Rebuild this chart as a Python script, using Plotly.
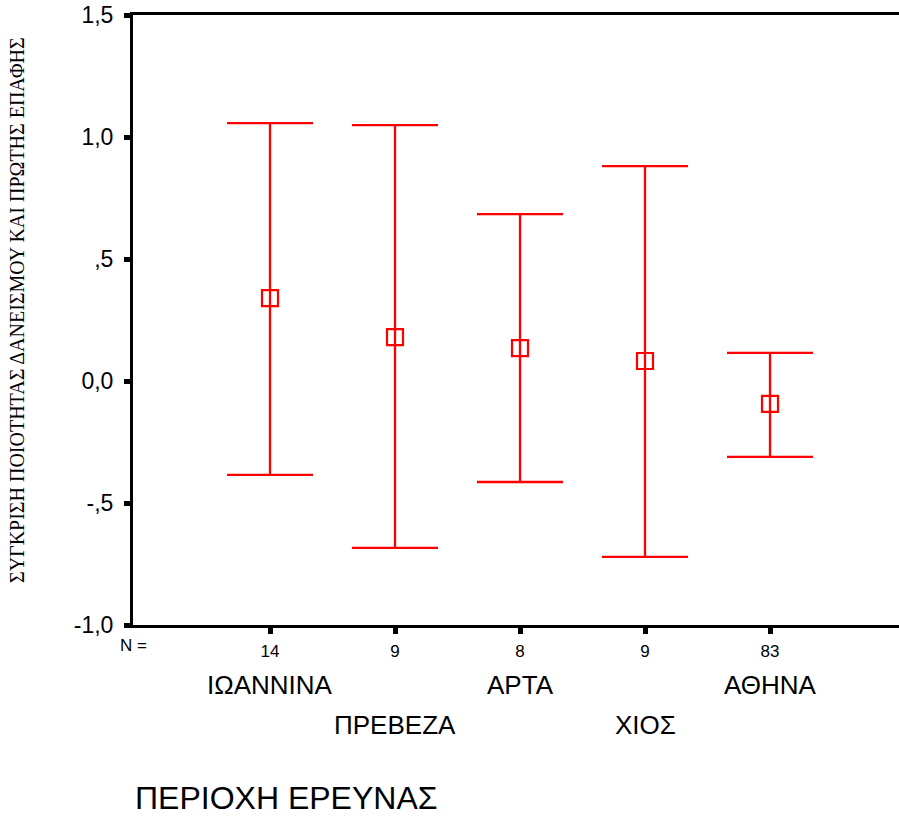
import plotly.graph_objects as go

regions = ["ΙΩΑΝΝΙΝΑ", "ΠΡΕΒΕΖΑ", "ΑΡΤΑ", "ΧΙΟΣ", "ΑΘΗΝΑ"]
n_values = ["14", "9", "8", "9", "83"]
means = [0.34, 0.18, 0.135, 0.082, -0.094]
upper = [1.057, 1.049, 0.684, 0.881, 0.115]
lower = [-0.385, -0.684, -0.414, -0.721, -0.311]
y_tickvals = [-1.0, -0.5, 0.0, 0.5, 1.0, 1.5]
y_ticktext = ["-1,0", "-,5", "0,0", ",5", "1,0", "1,5"]

xs = list(range(len(regions)))
err_plus = [u - m for u, m in zip(upper, means)]
err_minus = [m - l for m, l in zip(means, lower)]

RED = "#FF0000"
fig = go.Figure()
fig.add_trace(go.Scatter(
    x=xs, y=means, mode="markers",
    marker=dict(symbol="square-open", size=16, color=RED, line=dict(width=2.2, color=RED)),
    error_y=dict(type="data", symmetric=False, array=err_plus, arrayminus=err_minus,
                 color=RED, thickness=2.3, width=43),
    showlegend=False, hoverinfo="skip",
))

W, H = 899, 819
left, top, bottom = 133, 15, 194
fig.update_layout(
    width=W, height=H,
    margin=dict(l=left, r=0, t=top, b=bottom, pad=0),
    plot_bgcolor="white", paper_bgcolor="white",
    font=dict(family="Liberation Sans, Arial, sans-serif", color="black"),
)
fig.update_xaxes(
    range=[-1.096, 5.032], tickvals=xs, ticktext=n_values,
    showgrid=False, zeroline=False, showline=True, linecolor="black", linewidth=3,
    mirror=True, ticks="outside", ticklen=6, tickwidth=5, tickcolor="black",
    tickfont=dict(size=17), ticklabelstandoff=3,
)
fig.update_yaxes(
    range=[-1.0, 1.5], tickvals=y_tickvals, ticktext=y_ticktext,
    showgrid=False, zeroline=False, showline=True, linecolor="black", linewidth=3,
    ticks="outside", ticklen=6, tickwidth=5, tickcolor="black",
    tickfont=dict(size=23), ticklabelstandoff=6,
)

plot_w = W - left
plot_h = H - top - bottom

def py(pix):
    return (H - bottom - pix) / plot_h

def px(pix):
    return (pix - left) / plot_w

ann = []
ann.append(dict(text="N =", x=0, xref="paper", y=py(645), yref="paper",
                xanchor="center", yanchor="middle", showarrow=False, font=dict(size=17)))
for i, name in enumerate(regions):
    row_y = 685 if i % 2 == 0 else 725
    ann.append(dict(text=name, x=i, xref="x", y=py(row_y), yref="paper",
                    xanchor="center", yanchor="middle", showarrow=False, font=dict(size=26)))
ann.append(dict(text="ΠΕΡΙΟΧΗ ΕΡΕΥΝΑΣ", x=px(133), xref="paper", y=py(798), yref="paper",
                xanchor="left", yanchor="middle", showarrow=False, font=dict(size=32)))
ann.append(dict(text="ΣΥΓΚΡΙΣΗ ΠΟΙΟΤΗΤΑΣ ΔΑΝΕΙΣΜΟΥ ΚΑΙ ΠΡΩΤΗΣ ΕΠΑΦΗΣ",
                x=px(17), xref="paper", y=py(310), yref="paper", textangle=-90,
                xanchor="center", yanchor="middle", showarrow=False,
                font=dict(size=20, family="Liberation Serif, Times New Roman, serif")))
fig.update_layout(annotations=ann)

fig.write_html("out.html")
